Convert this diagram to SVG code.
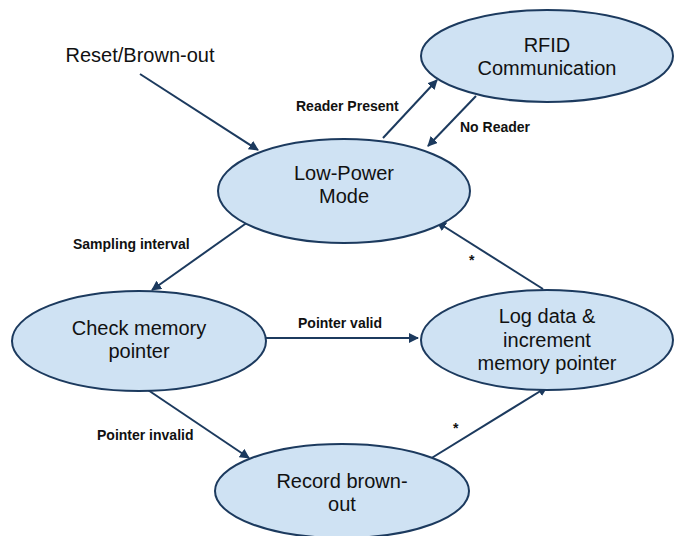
<svg xmlns="http://www.w3.org/2000/svg" width="682" height="536" viewBox="0 0 682 536">
<defs>
<style>
.node{fill:#cfe2f3;stroke:#1c3a5e;stroke-width:2}
.t{font-family:"Liberation Sans",Arial,sans-serif;font-size:20px;fill:#111;text-anchor:middle}
.lbl{font-family:"Liberation Sans",Arial,sans-serif;font-size:14px;font-weight:bold;fill:#111}
.e{stroke:#1c3a5e;stroke-width:2;fill:none;marker-end:url(#ah)}
</style>
<marker id="ah" viewBox="0 0 10 10" refX="9" refY="5" markerWidth="5" markerHeight="5" orient="auto" markerUnits="strokeWidth">
<path d="M0,0 L10,5 L0,10 z" fill="#1c3a5e"/>
</marker>
</defs>
<rect width="682" height="536" fill="#fff"/>
<g id="connectors">
<line class="e" x1="140" y1="74" x2="258" y2="150"/>
<line class="e" x1="383" y1="138" x2="437" y2="80"/>
<line class="e" x1="476" y1="96" x2="428" y2="146"/>
<line class="e" x1="255" y1="217" x2="152" y2="290"/>
<line class="e" x1="265" y1="338" x2="418" y2="338"/>
<line class="e" x1="543" y1="289" x2="437" y2="222"/>
<line class="e" x1="142" y1="386" x2="249" y2="458"/>
<line class="e" x1="430" y1="459" x2="547" y2="387"/>
<text class="t" x="140" y="62">Reset/Brown-out</text>
<text class="lbl" x="296" y="111">Reader Present</text>
<text class="lbl" x="460" y="132">No Reader</text>
<text class="lbl" x="73" y="249">Sampling interval</text>
<text class="lbl" x="298" y="328">Pointer valid</text>
<text class="lbl" x="97" y="440">Pointer invalid</text>
<text class="lbl" x="469" y="265">*</text>
<text class="lbl" x="453" y="433">*</text>
</g>
<g id="rfid">
<ellipse class="node" cx="547" cy="56" rx="126" ry="46"/>
<text class="t" x="547" y="52">RFID</text>
<text class="t" x="547" y="75">Communication</text>
</g>
<g id="lowpower">
<ellipse class="node" cx="344" cy="191" rx="126" ry="52"/>
<text class="t" x="344" y="180">Low-Power</text>
<text class="t" x="344" y="203">Mode</text>
</g>
<g id="checkmem">
<ellipse class="node" cx="139" cy="341" rx="127" ry="50"/>
<text class="t" x="139" y="335">Check memory</text>
<text class="t" x="139" y="358">pointer</text>
</g>
<g id="logdata">
<ellipse class="node" cx="547" cy="340" rx="126" ry="50"/>
<text class="t" x="547" y="323">Log data &amp;</text>
<text class="t" x="547" y="347">increment</text>
<text class="t" x="547" y="370">memory pointer</text>
</g>
<g id="record">
<ellipse class="node" cx="342" cy="491" rx="127" ry="47"/>
<text class="t" x="342" y="488">Record brown-</text>
<text class="t" x="342" y="511">out</text>
</g>
</svg>
